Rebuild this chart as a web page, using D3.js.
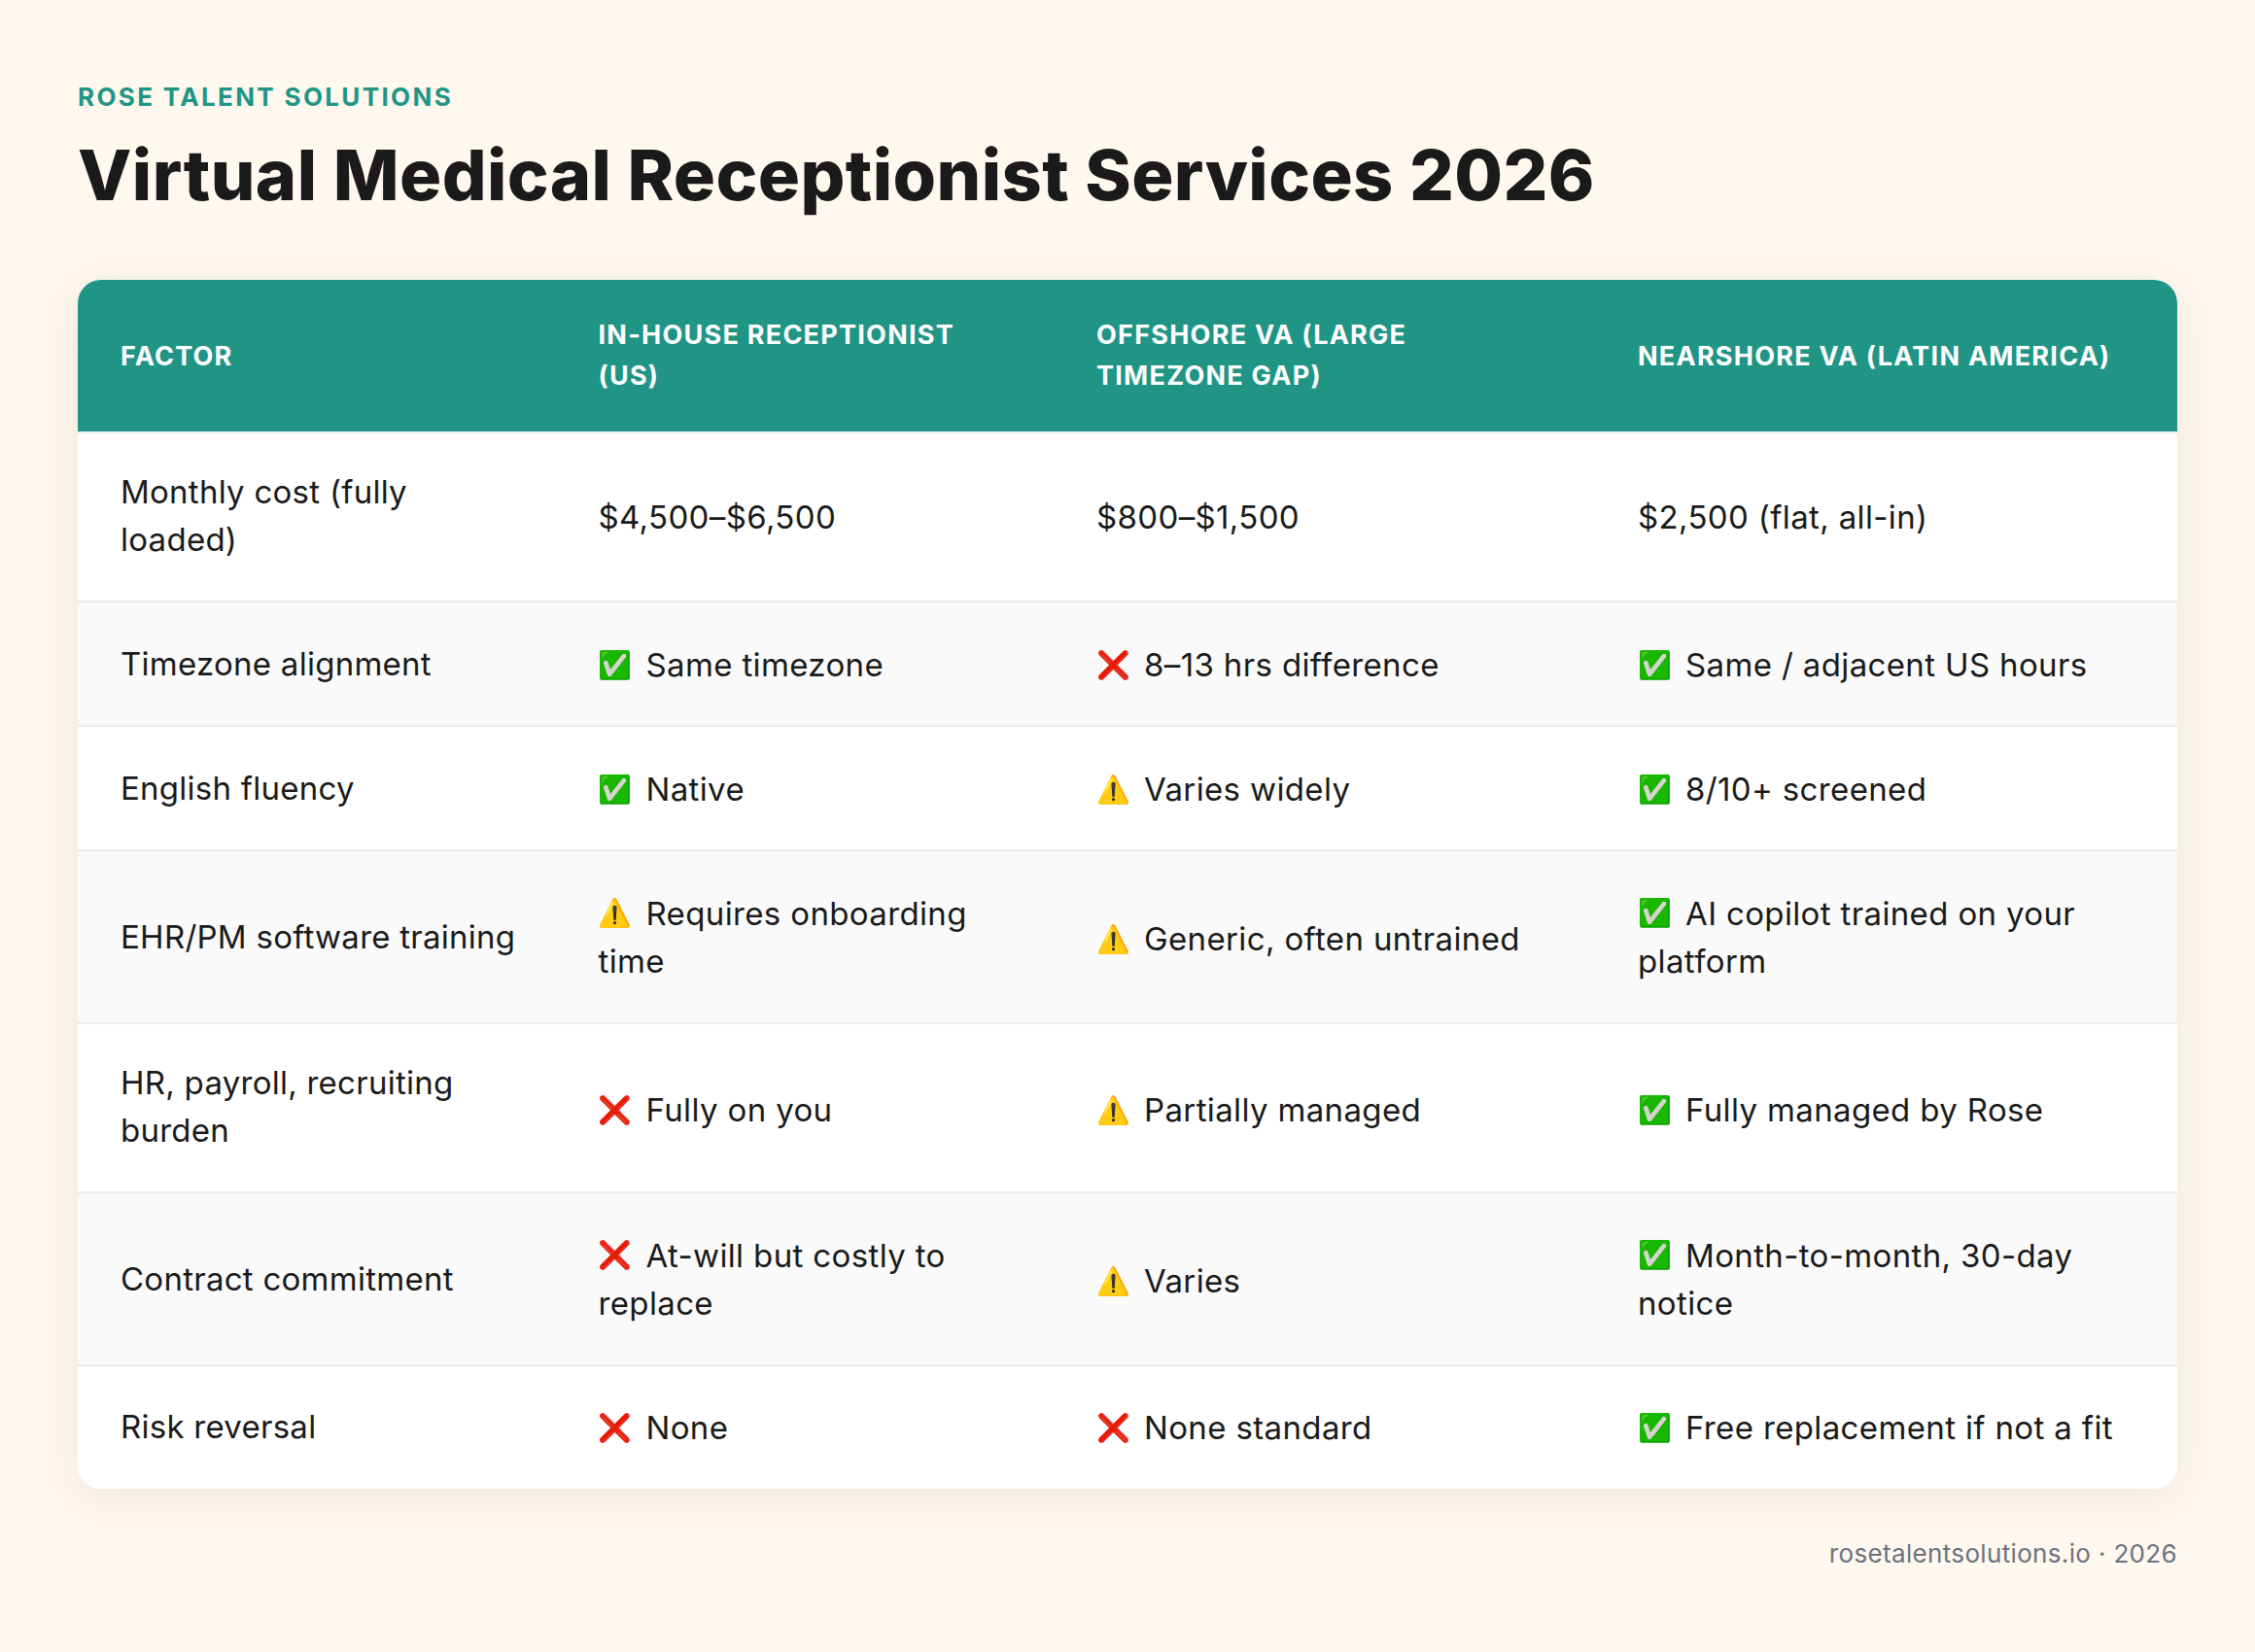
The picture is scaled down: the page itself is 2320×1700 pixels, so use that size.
<!DOCTYPE html>
<html>
<head>
<meta charset="utf-8">
<script src="https://cdn.jsdelivr.net/npm/d3@7"></script>
<style>
  html, body { margin: 0; padding: 0; background: #fff8ee; }
  svg { display: block; font-family: Inter, "Noto Sans", sans-serif; }
</style>
</head>
<body>
<script>
const brand = "ROSE TALENT SOLUTIONS";
const title = "Virtual Medical Receptionist Services 2026";
const footer = "rosetalentsolutions.io · 2026";

const columns = ["FACTOR", "IN-HOUSE RECEPTIONIST\n(US)", "OFFSHORE VA (LARGE\nTIMEZONE GAP)", "NEARSHORE VA (LATIN AMERICA)"];
const factors = ["Monthly cost (fully\nloaded)", "Timezone alignment", "English fluency", "EHR/PM software training",
    "HR, payroll, recruiting\nburden", "Contract commitment", "Risk reversal"];
const inHouse = ["$4,500–$6,500", "Same timezone", "Native", "Requires onboarding\ntime",
    "Fully on you", "At-will but costly to\nreplace", "None"];
const inHouseMarks = ["", "✅", "✅", "⚠️", "❌", "❌", "❌"];
const offshore = ["$800–$1,500", "8–13 hrs difference", "Varies widely", "Generic, often untrained",
    "Partially managed", "Varies", "None standard"];
const offshoreMarks = ["", "❌", "⚠️", "⚠️", "⚠️", "⚠️", "❌"];
const nearshore = ["$2,500 (flat, all-in)", "Same / adjacent US hours", "8/10+ screened", "AI copilot trained on your\nplatform",
    "Fully managed by Rose", "Month-to-month, 30-day\nnotice", "Free replacement if not a fit"];
const nearshoreMarks = ["", "✅", "✅", "✅", "✅", "✅", "✅"];

const width = 2320, height = 1700;
const tableLeft = 80, tableRight = 2240, tableTop = 288, tableBottom = 1532, headBottom = 444;
const markGap = 49;

// layout scales: one text start per column, one lower edge per row
const x = d3.scaleOrdinal(d3.range(4), [124, 615.5, 1128, 1685]);
const rowEnd = d3.scaleOrdinal(d3.range(7), [620, 748, 876, 1054, 1228, 1406, 1532]);
const rowStart = i => i === 0 ? headBottom + 2 : rowEnd(i - 1);
const markFilter = d3.scaleOrdinal(["✅", "❌", "⚠️"], [
    "hue-rotate(16deg) saturate(2.2) brightness(0.85)",
    "saturate(2) brightness(0.9)",
    "saturate(1.2)"
]);

const rows = factors.map((f, i) => [
    { text: f, mark: "" },
    { text: inHouse[i], mark: inHouseMarks[i] },
    { text: offshore[i], mark: offshoreMarks[i] },
    { text: nearshore[i], mark: nearshoreMarks[i] }
]);

const svg = d3.select("body").append("svg")
    .attr("width", width)
    .attr("height", height);

const defs = svg.append("defs");
defs.append("filter")
    .attr("id", "cardShadow")
    .attr("x", "-10%").attr("y", "-10%").attr("width", "120%").attr("height", "125%")
  .append("feDropShadow")
    .attr("dx", 0).attr("dy", 8)
    .attr("stdDeviation", 24)
    .attr("flood-color", "#000")
    .attr("flood-opacity", 0.07);
defs.append("clipPath")
    .attr("id", "cardClip")
  .append("rect")
    .attr("x", tableLeft).attr("y", tableTop)
    .attr("width", tableRight - tableLeft).attr("height", tableBottom - tableTop)
    .attr("rx", 24);

svg.append("rect")
    .attr("width", width).attr("height", height)
    .attr("fill", "#fff8ee");

svg.append("text")
    .attr("x", 80).attr("y", 109)
    .attr("font-size", 26).attr("font-weight", 700)
    .attr("letter-spacing", 2.35)
    .attr("fill", "#209585")
    .text(brand);

svg.append("text")
    .attr("x", 80).attr("y", 206)
    .attr("font-size", 72).attr("font-weight", 800)
    .attr("letter-spacing", 0.42)
    .attr("fill", "#1a1a1a")
    .text(title);

svg.append("rect")
    .attr("x", tableLeft).attr("y", tableTop)
    .attr("width", tableRight - tableLeft).attr("height", tableBottom - tableTop)
    .attr("rx", 24)
    .attr("fill", "#fff")
    .attr("filter", "url(#cardShadow)");

const card = svg.append("g").attr("clip-path", "url(#cardClip)");

card.append("rect")
    .attr("x", tableLeft).attr("y", tableTop)
    .attr("width", tableRight - tableLeft).attr("height", headBottom - tableTop)
    .attr("fill", "#209585");

card.append("rect")
    .attr("x", tableLeft).attr("y", headBottom)
    .attr("width", tableRight - tableLeft).attr("height", 2)
    .attr("fill", "#e4f1ef");

card.selectAll(".stripe")
    .data(d3.range(7))
    .enter()
    .append("rect")
        .attr("class", "stripe")
        .attr("x", tableLeft)
        .attr("y", (i) => { return rowStart(i); })
        .attr("width", tableRight - tableLeft)
        .attr("height", (i) => { return rowEnd(i) - rowStart(i); })
        .attr("fill", (i) => { return i % 2 ? "#fafafa" : "#fff"; });

card.selectAll(".rule")
    .data(d3.range(6))
    .enter()
    .append("rect")
        .attr("class", "rule")
        .attr("x", tableLeft)
        .attr("y", (i) => { return rowEnd(i) - 2; })
        .attr("width", tableRight - tableLeft)
        .attr("height", 2)
        .attr("fill", "#ececec");

svg.selectAll(".head")
    .data(columns)
    .enter()
    .append("text")
        .attr("class", "head")
        .attr("font-size", 27).attr("font-weight", 700)
        .attr("letter-spacing", 1.25)
        .attr("fill", "#fff")
    .each(function (d, i) {
        let lines = d.split("\n");
        let y0 = lines.length > 1 ? 353.7 : 376;
        d3.select(this).selectAll("tspan")
            .data(lines)
            .enter()
            .append("tspan")
                .attr("x", x(i))
                .attr("y", (l, k) => { return y0 + k * 42; })
                .text((l) => { return l; });
    });

rows.forEach((row, r) => {
    let c = (rowStart(r) + rowEnd(r) - 2) / 2;
    let tall = rowEnd(r) - rowStart(r) > 150;
    let cells = svg.selectAll(".row" + r)
        .data(row)
        .enter()
        .append("g")
            .attr("class", "row" + r);

    cells.each(function (d, i) {
        let lines = d.text.split("\n");
        let y0 = c + 12;
        if (lines.length > 1) {
            y0 = i === 0 ? c - 14.5 : c - 12.3;
        } else if (d.mark) {
            y0 = tall ? c + 14 : c + 13;
        }
        let cell = d3.select(this);
        if (d.mark) {
            cell.append("text")
                .attr("x", x(i) - 0.5)
                .attr("y", y0 - 2.5)
                .attr("font-size", 28)
                .style("filter", markFilter(d.mark))
                .text(d.mark);
        }
        cell.append("text")
            .attr("font-size", 33)
            .attr("letter-spacing", i === 0 ? 0.26 : 0.36)
            .attr("fill", "#1a1a1a")
          .selectAll("tspan")
            .data(lines)
            .enter()
            .append("tspan")
                .attr("x", (l, k) => { return k === 0 && d.mark ? x(i) + markGap : x(i); })
                .attr("y", (l, k) => { return y0 + k * 49.6; })
                .text((l) => { return l; });
    });
});

svg.append("text")
    .attr("x", 2240).attr("y", 1608)
    .attr("text-anchor", "end")
    .attr("font-size", 26)
    .attr("letter-spacing", 0.34)
    .attr("fill", "#6b7280")
    .text(footer);
</script>
</body>
</html>
